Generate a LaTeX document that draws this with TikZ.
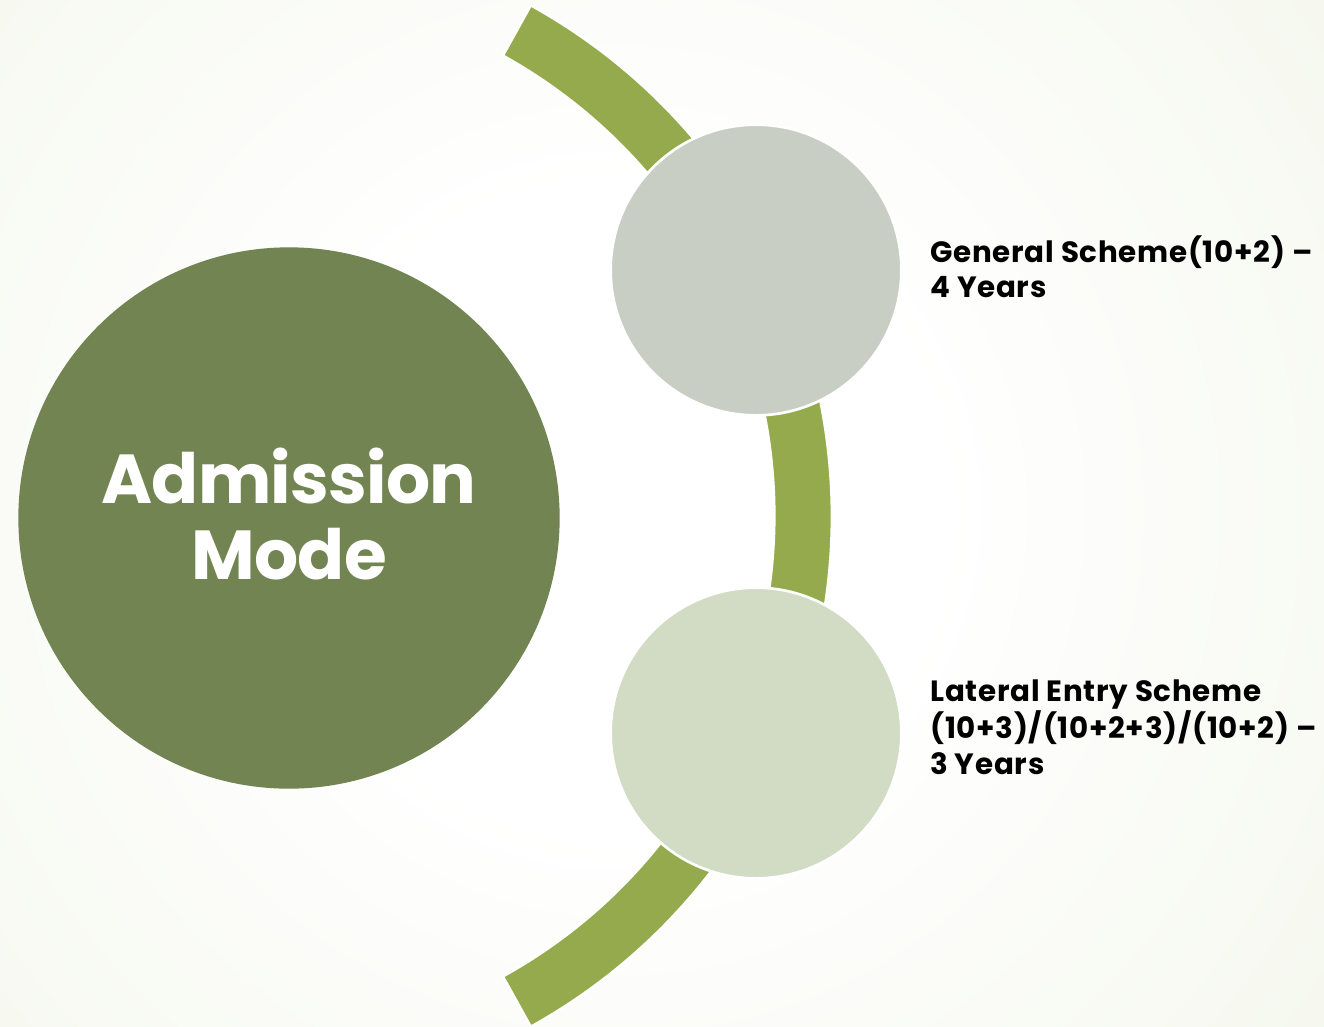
\documentclass[tikz,border=0pt]{standalone}
\usepackage{fontspec}
\setmainfont{Poppins}
\definecolor{bgout}{HTML}{E2EACE}
\definecolor{bigc}{HTML}{718452}
\definecolor{arcg}{HTML}{94AA4C}
\definecolor{topc}{HTML}{C8CEC4}
\definecolor{botc}{HTML}{D2DBC3}
\pgfdeclareradialshading{bgshade}{\pgfpoint{0bp}{0bp}}{color(0bp)=(white); color(8bp)=(white); color(50bp)=(bgout)}
\tikzset{
  smallc/.style={circle, draw=white, line width=2pt, minimum size=218pt, inner sep=0pt},
  lbl/.style={anchor=north west, inner sep=0pt, align=left, font=\fontsize{22}{26.5}\selectfont\bfseries\addfontfeatures{LetterSpace=2.5}, text=black}
}
\begin{document}
\begin{tikzpicture}[x=0.75pt, y=-0.75pt]
\useasboundingbox (0,0) rectangle (1324,1026);
\clip (0,0) rectangle (1324,1026);
\shade[shading=bgshade] (620,510) circle (1000);
% arc band
\coordinate (c) at (248,516);
\fill[arcg, draw=white, line width=1.5pt]
  ([shift={(c)}]-61:583.5) arc[start angle=-61, end angle=61, radius=583.5]
  -- ([shift={(c)}]61:526.5) arc[start angle=61, end angle=-61, radius=526.5] -- cycle;
% big circle
\node[circle, fill=bigc, minimum size=406pt, inner sep=0pt] (big) at (289,518) {};
\node[text=white, align=center, inner sep=0pt,
  font=\fontsize{52}{57.5}\selectfont\bfseries\addfontfeatures{LetterSpace=-1}] (bigt) at (289,514) {Admission\\Mode};
\node[smallc, fill=topc] (top) at (756,270) {};
\node[smallc, fill=botc] (bot) at (756,733) {};
\node[lbl] (t1) at (930,235) {General Scheme(10+2) --\\4 Years};
\node[lbl] (t2) at (930,680) {Lateral Entry Scheme\\(10+3)/(10+2+3)/(10+2) --\\3 Years};
\end{tikzpicture}
\end{document}
